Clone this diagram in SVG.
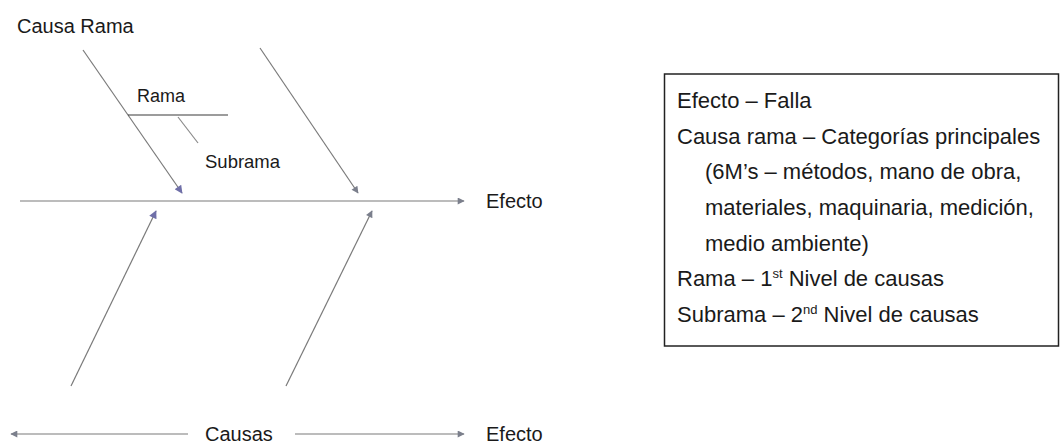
<svg xmlns="http://www.w3.org/2000/svg" width="1061" height="445" viewBox="0 0 1061 445">
  <defs>
    <marker id="ah" viewBox="0 0 10 10" refX="9" refY="5" markerWidth="9" markerHeight="7" markerUnits="userSpaceOnUse" orient="auto">
      <path d="M0,0 L10,5 L0,10 Z" fill="#7b7f8c"/>
    </marker>
    <marker id="ahb" viewBox="0 0 10 10" refX="9" refY="5" markerWidth="10" markerHeight="8" markerUnits="userSpaceOnUse" orient="auto">
      <path d="M0,0 L10,5 L0,10 Z" fill="#6f6fa8"/>
    </marker>
  </defs>
  <style>
    text { font-family: "Liberation Sans", Arial, sans-serif; fill: #1a1a1a; }
    .lbl { font-size: 20px; }
    .sm { font-size: 18px; }
    .box { font-size: 22px; }
    .ln { stroke: #7a7a7a; stroke-width: 1.2; fill: none; }
    .dk { stroke: #3a3a3a; stroke-width: 1.2; fill: none; }
    .sub { stroke: #8a8a8a; stroke-width: 1.2; fill: none; }
  </style>
  <rect width="1061" height="445" fill="#ffffff"/>

  <g id="connectors">
    <line class="ln" x1="20" y1="201" x2="464" y2="201" marker-end="url(#ah)"/>
    <line class="ln" x1="83" y1="50" x2="182" y2="193" marker-end="url(#ahb)"/>
    <line class="ln" x1="260" y1="48" x2="358" y2="193" marker-end="url(#ah)"/>
    <line class="ln" x1="71" y1="386" x2="156" y2="211" marker-end="url(#ahb)"/>
    <line class="ln" x1="286" y1="386" x2="372" y2="211" marker-end="url(#ah)"/>
    <line class="dk" x1="128" y1="115" x2="228" y2="115"/>
    <line class="sub" x1="178" y1="117" x2="198" y2="143"/>
    <line class="ln" x1="188" y1="434" x2="11" y2="434" marker-end="url(#ah)"/>
    <line class="ln" x1="295" y1="434" x2="464" y2="434" marker-end="url(#ah)"/>
  </g>

  <g id="causa-rama"><text class="lbl" x="17" y="33">Causa Rama</text></g>
  <g id="rama"><text class="sm" x="137" y="102">Rama</text></g>
  <g id="subrama"><text class="sm" x="205" y="168" style="font-size:18.5px">Subrama</text></g>
  <g id="efecto-main"><text class="lbl" x="486" y="208">Efecto</text></g>
  <g id="causas"><text class="lbl" x="205" y="441">Causas</text></g>
  <g id="efecto-bottom"><text class="lbl" x="486" y="441">Efecto</text></g>

  <g id="legend">
    <rect x="664.5" y="74" width="394" height="272" fill="none" stroke="#222" stroke-width="1.5"/>
    <text class="box" x="677" y="108">Efecto – Falla</text>
    <text class="box" x="677" y="144">Causa rama – Categorías principales</text>
    <text class="box" x="705" y="179">(6M’s – métodos, mano de obra,</text>
    <text class="box" x="705" y="215">materiales, maquinaria, medición,</text>
    <text class="box" x="705" y="251">medio ambiente)</text>
    <text class="box" x="677" y="286">Rama – 1<tspan font-size="13" dy="-8">st</tspan><tspan dy="8"> Nivel de causas</tspan></text>
    <text class="box" x="677" y="322">Subrama – 2<tspan font-size="13" dy="-8">nd</tspan><tspan dy="8"> Nivel de causas</tspan></text>
  </g>
</svg>
